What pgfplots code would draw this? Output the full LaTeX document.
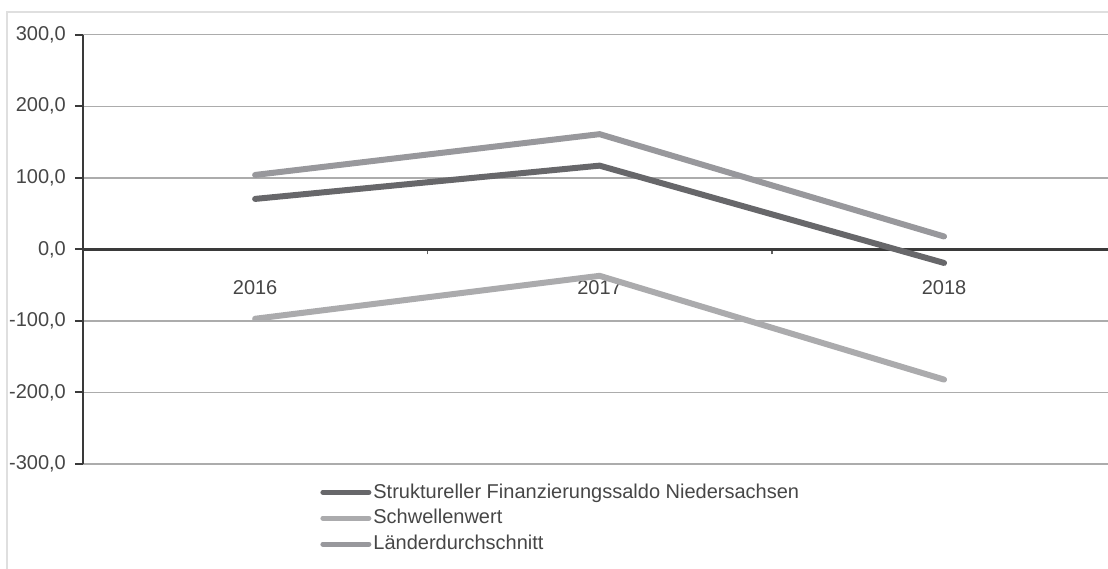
\documentclass[border=0pt]{standalone}
\usepackage{pgfplots}
\pgfplotsset{compat=1.18}
\usepackage{fontspec}
\setmainfont{Liberation Sans}
\definecolor{cA}{HTML}{67676A}
\definecolor{cB}{HTML}{ABABAD}
\definecolor{cC}{HTML}{98989C}
\definecolor{txt}{HTML}{464646}
\definecolor{axl}{HTML}{3A3A3A}
\begin{document}
\begin{tikzpicture}[x=0.5pt,y=0.5pt]
\useasboundingbox (-82.9,-104) rectangle (1025.1,464);
\draw[color=gray!25, line width=0.8pt] (-75.9,-200) -- (-75.9,452) -- (1200,452);
\begin{axis}[
  at={(0,0)}, anchor=south west,
  scale only axis, width=512.55pt, height=214.65pt,
  xmin=-0.5, xmax=2.476, ymin=-300, ymax=300,
  axis x line=middle, axis y line=left,
  axis line style={-, color=axl, line width=1.2pt},
  ytick={-300,-200,-100,0,100,200,300},
  ymajorgrids, major grid style={color=gray!65, line width=0.7pt},
  major tick length=4pt, minor tick length=2.5pt,
  y tick style={color=axl, line width=1pt},
  ytick align=outside,
  yticklabel style={font=\fontsize{10}{12}\selectfont, color=txt, xshift=-1pt},
  /pgf/number format/.cd, fixed, fixed zerofill, precision=1, use comma, assume math mode=true,
  /pgfplots/.cd,
  xtick={0,1,2}, xticklabels={2016,2017,2018},
  x tick style={draw=none},
  minor xtick={0.5,1.5},
  minor x tick style={draw=axl!80, line width=0.8pt},
  xtick align=outside,
  xticklabel style={font=\fontsize{10}{12}\selectfont, color=txt, yshift=-8pt},
  clip=false,
  legend style={at={(0.2313,-0.040)}, anchor=north west, draw=none, fill=none,
     inner sep=0pt, row sep=2.2pt,
     font=\fontsize{10}{12}\selectfont, text=txt,
     nodes={inner sep=1pt, anchor=west}},
  legend cell align=left,
  legend image code/.code={\draw[#1, line width=2.5pt, line cap=round] (0pt,0pt) -- (23pt,0pt);},
]
\addplot[color=cA, line width=3pt, line cap=round] coordinates {(0,70.5) (1,117) (2,-19)};
\addlegendentry{Struktureller Finanzierungssaldo Niedersachsen}
\addplot[color=cB, line width=3pt, line cap=round] coordinates {(0,-97) (1,-37) (2,-182)};
\addlegendentry{Schwellenwert}
\addplot[color=cC, line width=3pt, line cap=round] coordinates {(0,104) (1,161) (2,18)};
\addlegendentry{Länderdurchschnitt}
\end{axis}
\end{tikzpicture}
\end{document}
